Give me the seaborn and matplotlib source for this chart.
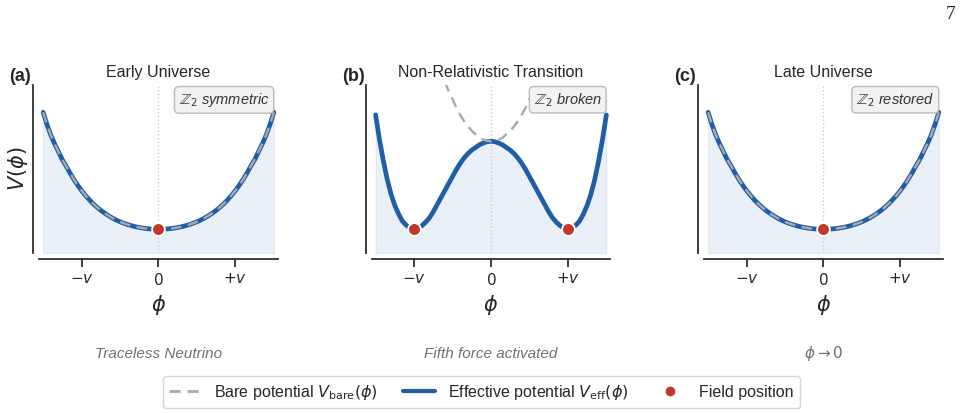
import numpy as np
import matplotlib
matplotlib.use('Agg')
import matplotlib.pyplot as plt
from matplotlib.lines import Line2D
import seaborn as sns

sns.set_theme(style='ticks')
plt.rcParams['font.family'] = ['Liberation Sans', 'DejaVu Sans']
plt.rcParams['mathtext.fontset'] = 'dejavusans'

BLUE = '#1f5fa8'
RED = '#c0392b'
GREY = '#aaaaaa'

# field grid (units of v)
phi = [-1.5, -1.45, -1.4, -1.35, -1.3, -1.25, -1.2, -1.15, -1.1, -1.05,
       -1.0, -0.95, -0.9, -0.85, -0.8, -0.75, -0.7, -0.65, -0.6, -0.55,
       -0.5, -0.45, -0.4, -0.35, -0.3, -0.25, -0.2, -0.15, -0.1, -0.05,
       0.0,
       0.05, 0.1, 0.15, 0.2, 0.25, 0.3, 0.35, 0.4, 0.45, 0.5,
       0.55, 0.6, 0.65, 0.7, 0.75, 0.8, 0.85, 0.9, 0.95, 1.0,
       1.05, 1.1, 1.15, 1.2, 1.25, 1.3, 1.35, 1.4, 1.45, 1.5]

# symmetric single well (early / late universe), bare == effective
v_sym = [1.33, 1.19, 1.07, 0.97, 0.88, 0.79, 0.717, 0.638, 0.566, 0.50,
         0.44, 0.385, 0.336, 0.291, 0.251, 0.215, 0.183, 0.154, 0.128, 0.105,
         0.085, 0.068, 0.053, 0.040, 0.029, 0.020, 0.013, 0.007, 0.003, 0.001,
         0.0,
         0.001, 0.003, 0.007, 0.013, 0.020, 0.029, 0.040, 0.053, 0.068, 0.085,
         0.105, 0.128, 0.154, 0.183, 0.215, 0.251, 0.291, 0.336, 0.385, 0.44,
         0.50, 0.566, 0.638, 0.717, 0.79, 0.88, 0.97, 1.07, 1.19, 1.33]

# non-relativistic transition: double well (effective)
v_eff_b = [1.30, 1.02, 0.78, 0.57, 0.40, 0.27, 0.17, 0.09, 0.045, 0.01,
           0.0, 0.01, 0.04, 0.08, 0.13, 0.20, 0.28, 0.36, 0.44, 0.52,
           0.60, 0.68, 0.75, 0.81, 0.86, 0.90, 0.93, 0.96, 0.98, 0.995,
           1.0,
           0.995, 0.98, 0.96, 0.93, 0.90, 0.86, 0.81, 0.75, 0.68, 0.60,
           0.52, 0.44, 0.36, 0.28, 0.20, 0.13, 0.08, 0.04, 0.01, 0.0,
           0.01, 0.045, 0.09, 0.17, 0.27, 0.40, 0.57, 0.78, 1.02, 1.30]

# non-relativistic transition: bare potential (runs off the top)
v_bare_b = [5.28, 4.99, 4.72, 4.46, 4.21, 3.97, 3.74, 3.51, 3.30, 3.09,
            2.90, 2.71, 2.54, 2.37, 2.22, 2.07, 1.93, 1.80, 1.68, 1.57,
            1.48, 1.38, 1.30, 1.23, 1.17, 1.12, 1.08, 1.04, 1.02, 1.005,
            1.0,
            1.005, 1.02, 1.04, 1.08, 1.12, 1.17, 1.23, 1.30, 1.38, 1.48,
            1.57, 1.68, 1.80, 1.93, 2.07, 2.22, 2.37, 2.54, 2.71, 2.90,
            3.09, 3.30, 3.51, 3.74, 3.97, 4.21, 4.46, 4.72, 4.99, 5.28]

field_a = [0.0]
field_b = [-1.0, 1.0]
field_c = [0.0]
field_v = [0.0, 0.0]

titles = ['Early Universe', 'Non-Relativistic Transition', 'Late Universe']
tags = ['(a)', '(b)', '(c)']
states = [r'$\mathbb{Z}_2$ symmetric', r'$\mathbb{Z}_2$ broken', r'$\mathbb{Z}_2$ restored']
notes = ['Traceless Neutrino', 'Fifth force activated', r'$\phi \rightarrow 0$']
note_italic = [True, True, False]
tick_pos = [-1, 0, 1]
tick_lab = [r'$-v$', r'$0$', r'$+v$']

panels = [
    (v_sym, v_sym, field_a),
    (v_eff_b, v_bare_b, field_b),
    (v_sym, v_sym, field_c),
]

YMIN, YMAX = -0.27, 1.64

fig, axes = plt.subplots(1, 3, figsize=(9.63, 4.13), dpi=100)
fig.subplots_adjust(left=0.0408, right=0.9789, bottom=0.3874, top=0.7942, wspace=0.3947)

for i, ax in enumerate(axes):
    v_eff, v_bare, fpos = panels[i]
    ax.fill_between(phi, v_eff, YMIN, color=BLUE, alpha=0.09, lw=0.8)
    ax.axvline(0, color='#cccccc', ls=':', lw=1, zorder=1)
    sns.lineplot(x=phi, y=v_eff, ax=ax, color=BLUE, lw=3.4, estimator=None, sort=False, zorder=3)
    sns.lineplot(x=phi, y=v_bare, ax=ax, color=GREY, lw=1.7, estimator=None, sort=False,
                 linestyle=(0, (4.5, 2.8)), zorder=4)
    sns.scatterplot(x=fpos, y=field_v[:len(fpos)], ax=ax, color=RED, s=85,
                    edgecolor='white', linewidth=1.3, zorder=6)
    ax.set_xlim(-1.55, 1.55)
    ax.set_ylim(YMIN, YMAX)
    ax.set_xticks(tick_pos)
    ax.set_xticklabels(tick_lab, fontsize=11.5)
    ax.set_yticks([])
    ax.set_xlabel(r'$\phi$', fontsize=15, labelpad=3)
    ax.set_title(titles[i], fontsize=11.5)
    ax.text(-0.125, 1.0, tags[i], transform=ax.transAxes, fontsize=13,
            fontweight='bold', ha='left', va='bottom')
    ax.text(0.965, 0.965, states[i], transform=ax.transAxes, fontsize=10.5,
            style='italic', color='#333333', ha='right', va='top',
            bbox=dict(boxstyle='round,pad=0.3', facecolor='#f2f2f2', edgecolor='#bbbbbb'),
            zorder=7)
    ax.text(0.5, -0.60, notes[i], transform=ax.transAxes, fontsize=11,
            style='italic' if note_italic[i] else 'normal', color='#707070',
            ha='center', va='center')
    sns.despine(ax=ax, offset=4.5)

axes[0].set_ylabel(r'$V(\phi)$', fontsize=15, labelpad=2)

handles = [
    Line2D([], [], color=GREY, lw=2, dashes=(4, 2.5)),
    Line2D([], [], color=BLUE, lw=3),
    Line2D([], [], color=RED, marker='o', ls='', markersize=8, markeredgecolor='white'),
]
labels = [r'Bare potential $V_{\rm bare}(\phi)$', r'Effective potential $V_{\rm eff}(\phi)$',
          'Field position']
fig.legend(handles, labels, loc='lower center', bbox_to_anchor=(0.5, 0.0), ncol=3,
           fontsize=11.5, frameon=True, edgecolor='#cccccc', borderaxespad=0.3,
           columnspacing=1.6)

fig.text(0.992, 0.985, '7', ha='right', va='top', fontsize=14,
         family=['Liberation Serif', 'DejaVu Serif'], color='#222222')

fig.savefig('out.png', dpi=100)
plt.close(fig)
